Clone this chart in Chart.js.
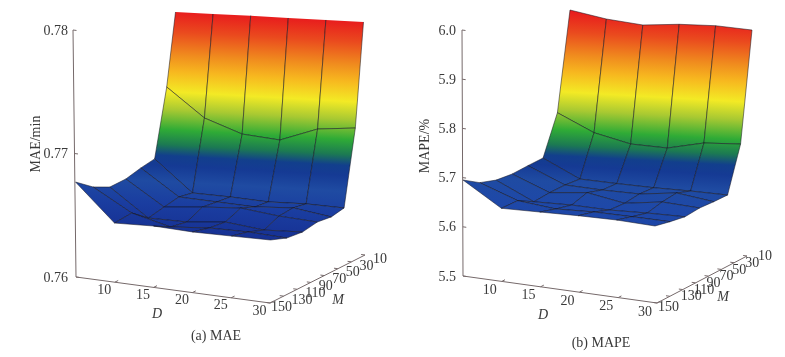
<!DOCTYPE html>
<html>
<head>
<meta charset="utf-8">
<style>
  html, body { margin: 0; padding: 0; background: #fff; }
  canvas { position: absolute; top: 0; }
</style>
<script src="https://cdn.jsdelivr.net/npm/chart.js@4/dist/chart.umd.min.js"></script>
</head>
<body>
<canvas id="maeChart" width="392" height="357" style="left:0"></canvas>
<canvas id="mapeChart" width="393" height="357" style="left:392px"></canvas>
<script>
const dValues = [5, 10, 15, 20, 25, 30];
const mValues = [10, 30, 50, 70, 90, 110, 130, 150];
const dTicks = [10, 15, 20, 25, 30];

// rows follow mValues, columns follow dValues
const maeValues = [
    [0.77757, 0.77783, 0.77811, 0.77835, 0.77861, 0.77887],
    [0.77184, 0.76975, 0.76887, 0.76881, 0.77012, 0.77062],
    [0.76649, 0.76415, 0.76425, 0.76427, 0.76453, 0.76462],
    [0.76629, 0.76436, 0.76438, 0.76440, 0.76474, 0.76443],
    [0.76598, 0.76413, 0.76455, 0.76489, 0.76466, 0.76460],
    [0.76595, 0.76386, 0.76396, 0.76438, 0.76415, 0.76441],
    [0.76661, 0.76492, 0.76421, 0.76455, 0.76465, 0.76458],
    [0.76769, 0.76479, 0.76497, 0.76491, 0.76500, 0.76510]
];
const mapeValues = [
    [5.9451, 5.9378, 5.9366, 5.9490, 5.9571, 5.9593],
    [5.7476, 5.7179, 5.7059, 5.7087, 5.7299, 5.7388],
    [5.6683, 5.6366, 5.6384, 5.6409, 5.6451, 5.6480],
    [5.6663, 5.6380, 5.6388, 5.6417, 5.6547, 5.6480],
    [5.6634, 5.6364, 5.6474, 5.6368, 5.6504, 5.6492],
    [5.6654, 5.6323, 5.6366, 5.6374, 5.6423, 5.6457],
    [5.6748, 5.6492, 5.6433, 5.6482, 5.6496, 5.6504],
    [5.6951, 5.6486, 5.6520, 5.6555, 5.6577, 5.6565]
];
const maeTicks = [0.76, 0.77, 0.78];
const mapeTicks = [5.5, 5.6, 5.7, 5.8, 5.9, 6.0];

const FONT = '14px "Liberation Serif", serif';
const ITALIC = 'italic 14px "Liberation Serif", serif';
const TEXT_COLOR = '#3a3a3a';
const AXIS_COLOR = '#75696a';

const wallStops = [
    [10, '#e8191d'], [32, '#ea4a1e'], [55, '#f08c1e'], [72, '#f7b81f'], [92, '#f3ea25'],
    [110, '#a8c932'], [130, '#2fab36'], [145, '#1c7a52'], [156, '#123f8c'], [166, '#153a94'],
    [182, '#1f4ba2']
];
const maeFloorStops = [[205, '#1a3da0'], [245, '#152c8e']];
const mapeFloorStops = [[205, '#1e48a8'], [245, '#1b42a6']];

const panels = [
    {
        canvas: 'maeChart', values: maeValues, zTicks: maeTicks, zDecimals: 2, left: 0, width: 392,
        floor: { x: 76, y: 277, dx: 194, dy: 26, mx: 95, my: 48, lean: 3 },
        surface: { x: 75.5, dx: 195, back: 100, shrink: 7, curve: 1.25, my: 48 },
        zMin: 0.76, zMax: 0.78, zScale: 12350,
        stops: wallStops.concat(maeFloorStops), topEdge: false,
        gradientX: 175, gradientTilt: 0.055,
        zLabelX: 68, dLabel: [-10.5, 8], mLabel: [8, 4],
        yTitle: 'MAE/min', yTitleAt: [36, 144], dAt: [157, 314], mAt: [338, 300],
        caption: '(a) MAE', captionAt: [216, 336]
    },
    {
        canvas: 'mapeChart', values: mapeValues, zTicks: mapeTicks, zDecimals: 1, left: 392, width: 393,
        floor: { x: 463, y: 276, dx: 194, dy: 27, mx: 90, my: 47, lean: 1 },
        surface: { x: 463, dx: 192, back: 107, shrink: 10, curve: 1.1, my: 47 },
        zMin: 5.5, zMax: 6.0, zScale: 492,
        stops: wallStops.concat(mapeFloorStops), topEdge: true,
        gradientX: 565, gradientTilt: 0.055,
        zLabelX: 456, dLabel: [-12, 9], mLabel: [11, 0.5],
        yTitle: 'MAPE/%', yTitleAt: [425, 146], dAt: [543, 315], mAt: [723, 297],
        caption: '(b) MAPE', captionAt: [601, 343]
    }
];

function floorPoint(p, D, M, z) {
    const d = (D - 5) / 25, m = (150 - M) / 140, f = p.floor;
    const h = (z - p.zMin) * p.zScale;
    return {
        x: f.x + f.dx * d + f.mx * m - f.lean * (z - p.zMin) / (p.zMax - p.zMin),
        y: f.y + f.dy * d - f.my * m - h
    };
}

function surfacePoint(p, D, M, z) {
    const d = (D - 5) / 25, m = (150 - M) / 140, s = p.surface;
    const g = 1 - Math.pow(1 - m, s.curve); // rows bunch up toward the back
    return {
        x: s.x + s.dx * d + (s.back - s.shrink * d) * g,
        y: p.floor.y + p.floor.dy * d - s.my * g - (z - p.zMin) * p.zScale
    };
}

function axisDatasets(p) {
    const line = data => ({ data, showLine: true, borderColor: AXIS_COLOR, borderWidth: 1, pointRadius: 0, fill: false });
    const sets = [
        line([floorPoint(p, 5, 150, p.zMin), floorPoint(p, 5, 150, p.zMax)]),
        line([floorPoint(p, 5, 150, p.zMin), floorPoint(p, 30, 150, p.zMin)]),
        line([floorPoint(p, 30, 150, p.zMin), floorPoint(p, 30, 10, p.zMin)])
    ];
    p.zTicks.forEach(z => sets.push(line([floorPoint(p, 5, 150, z), floorPoint(p, 5.45, 150, z)])));
    dTicks.forEach(D => sets.push(line([floorPoint(p, D, 150, p.zMin), floorPoint(p, D, 145, p.zMin)])));
    mValues.forEach(M => sets.push(line([floorPoint(p, 30, M, p.zMin), floorPoint(p, 29.5, M, p.zMin)])));
    return sets;
}

const surfacePlugin = {
    id: 'surface',
    beforeDatasetsDraw(chart, args, opts) {
        const p = opts.panel, ctx = chart.ctx;
        const xs = chart.scales.x, ys = chart.scales.y;
        const px = pt => [xs.getPixelForValue(pt.x), ys.getPixelForValue(pt.y)];

        // colour bands run almost level across the surface
        const top = p.stops[0][0], bottom = p.stops[p.stops.length - 1][0];
        const len = bottom - top, tilt = p.gradientTilt;
        const gx = xs.getPixelForValue(p.gradientX), gy = ys.getPixelForValue(top);
        const grad = ctx.createLinearGradient(gx, gy, gx - tilt * len, gy + len);
        p.stops.forEach(s => grad.addColorStop((s[0] - top) / (len * (1 + tilt * tilt)), s[1]));

        ctx.save();
        ctx.lineJoin = 'round';
        // back row first so nearer cells hide what is behind them
        for (let r = 0; r < mValues.length - 1; r++) {
            for (let c = 0; c < dValues.length - 1; c++) {
                const corners = [
                    [r, c], [r, c + 1], [r + 1, c + 1], [r + 1, c]
                ].map(([i, j]) => px(surfacePoint(p, dValues[j], mValues[i], p.values[i][j])));
                ctx.beginPath();
                corners.forEach((pt, i) => i ? ctx.lineTo(pt[0], pt[1]) : ctx.moveTo(pt[0], pt[1]));
                ctx.closePath();
                ctx.fillStyle = grad;
                ctx.fill();

                // the far rim has no dark line in (a)
                const skipRim = r === 0 && !p.topEdge;
                const outline = skipRim ? [1, 2, 3, 0] : [0, 1, 2, 3, 0];
                ctx.beginPath();
                outline.forEach((k, i) => i ? ctx.lineTo(corners[k][0], corners[k][1]) : ctx.moveTo(corners[k][0], corners[k][1]));
                ctx.strokeStyle = 'rgba(20,20,30,0.8)';
                ctx.lineWidth = 0.65;
                ctx.stroke();
            }
        }
        ctx.restore();
    }
};

const labelPlugin = {
    id: 'labels',
    afterDraw(chart, args, opts) {
        const p = opts.panel, ctx = chart.ctx;
        const xs = chart.scales.x, ys = chart.scales.y;
        const put = (text, x, y, align) => {
            ctx.textAlign = align || 'center';
            ctx.fillText(text, xs.getPixelForValue(x), ys.getPixelForValue(y));
        };
        ctx.save();
        ctx.fillStyle = TEXT_COLOR;
        ctx.textBaseline = 'middle';
        ctx.font = FONT;
        p.zTicks.forEach(z => {
            const t = floorPoint(p, 5, 150, z);
            put(z.toFixed(p.zDecimals), p.zLabelX, t.y + 1, 'right');
        });
        dTicks.forEach(D => {
            const t = floorPoint(p, D, 150, p.zMin);
            put(String(D), t.x + p.dLabel[0], t.y + p.dLabel[1]);
        });
        mValues.forEach(M => {
            const t = floorPoint(p, 30, M, p.zMin);
            const first = M === 150; // sits tight against the corner
            put(String(M), t.x + (first ? 1 : p.mLabel[0]), t.y + (first ? 4 : p.mLabel[1]), 'left');
        });
        put(p.caption, p.captionAt[0], p.captionAt[1]);

        ctx.font = ITALIC;
        put('D', p.dAt[0], p.dAt[1]);
        put('M', p.mAt[0], p.mAt[1]);

        ctx.font = FONT;
        ctx.translate(xs.getPixelForValue(p.yTitleAt[0]), ys.getPixelForValue(p.yTitleAt[1]));
        ctx.rotate(-Math.PI / 2);
        ctx.textAlign = 'center';
        ctx.fillText(p.yTitle, 0, 0);
        ctx.restore();
    }
};

panels.forEach(p => {
    new Chart(document.getElementById(p.canvas).getContext('2d'), {
        type: 'scatter',
        data: { datasets: axisDatasets(p) },
        options: {
            responsive: false,
            animation: false,
            layout: { padding: 0 },
            scales: {
                x: { type: 'linear', display: false, min: p.left, max: p.left + p.width },
                y: { type: 'linear', display: false, min: 0, max: 357, reverse: true }
            },
            plugins: {
                legend: { display: false },
                tooltip: { enabled: false },
                surface: { panel: p },
                labels: { panel: p }
            }
        },
        plugins: [surfacePlugin, labelPlugin]
    });
});
</script>
</body>
</html>
